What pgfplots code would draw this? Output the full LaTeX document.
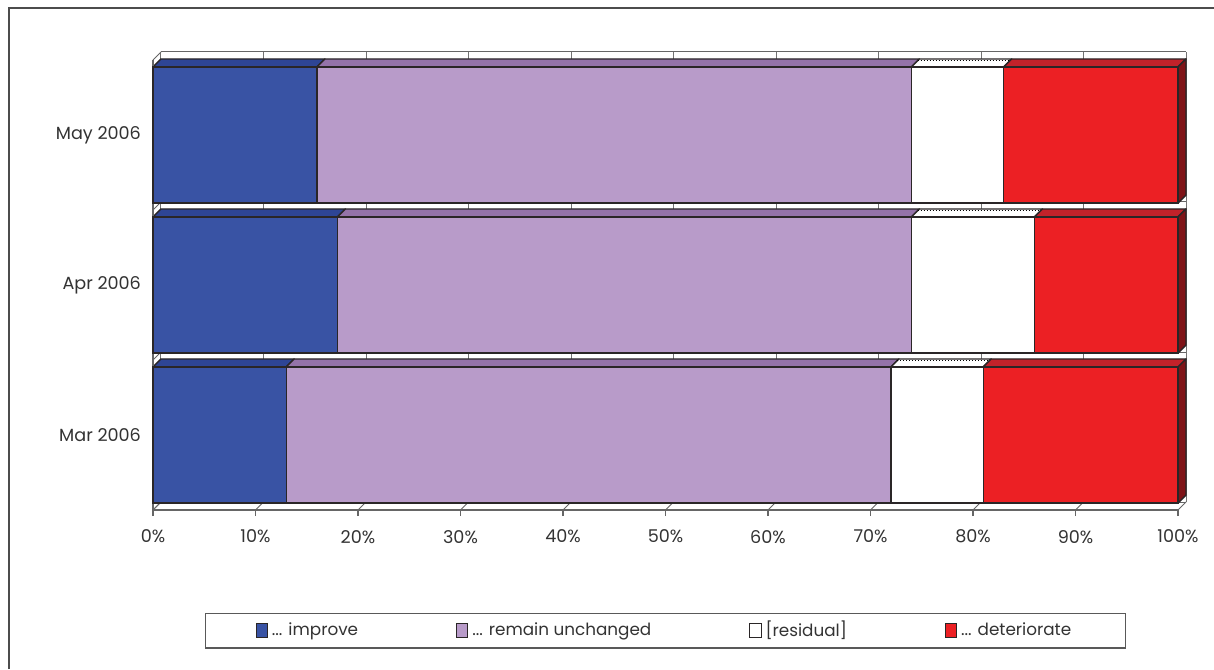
\documentclass[border=0pt]{standalone}
\usepackage{pgfplots}
\pgfplotsset{compat=1.18}
\usepackage{fontspec}
\setmainfont{Poppins}

\definecolor{cImp}{HTML}{3953A4}
\definecolor{cImpTop}{HTML}{2E4595}
\definecolor{cUnc}{HTML}{B89BC9}
\definecolor{cUncTop}{HTML}{9473A9}
\definecolor{cDet}{HTML}{EC2024}
\definecolor{cDetTop}{HTML}{C2222A}
\definecolor{cDetSide}{HTML}{7F1418}
\definecolor{cEdge}{HTML}{2A2627}
\definecolor{cText}{HTML}{333333}

% depth of the fake 3D effect in axis units
\def\dX{0.78}
\def\dY{0.0533}

\pgfplotsset{
  common/.style={
    at={(76.5pt,79.5pt)}, anchor=south west,
    scale only axis, width=512.5pt, height=225pt,
    xmin=0, xmax=100, ymin=-0.5, ymax=2.5,
    clip=false,
  },
  face/.style={draw=cEdge, line width=0.7pt, line join=round},
}

\begin{document}
\begin{tikzpicture}[font=\fontsize{8.8}{10.5}\selectfont, text=cText]
\useasboundingbox (0,0) rectangle (607pt,334.5pt);
\draw[line width=0.9pt, color=black!70] (4.5pt,0) -- (4.5pt,330.5pt) -- (607pt,330.5pt);

% back walls, grid and 3D faces
\begin{axis}[common, axis lines=none, ticks=none]
  % back wall grid
  \pgfplotsinvokeforeach{0,10,20,30,40,50,60,70,80,90,100}{
    \draw[black!55, line width=0.5pt] (axis cs:#1+\dX,-0.5+\dY) -- (axis cs:#1+\dX,2.5+\dY);
    \draw[black!60, line width=0.5pt] (axis cs:#1,-0.5) -- (axis cs:#1+\dX,-0.5+\dY);
  }
  \pgfplotsinvokeforeach{-0.5,0.5,1.5,2.5}{
    \draw[black!60, line width=0.5pt] (axis cs:\dX,#1+\dY) -- (axis cs:100+\dX,#1+\dY);
    \draw[black!60, line width=0.5pt] (axis cs:0,#1) -- (axis cs:\dX,#1+\dY);
  }
  % top faces: Mar (y=0), Apr (y=1), May (y=2); h = 0.4535
  \addplot[face, fill=cImpTop] coordinates {(0,0.4535) (0.78,0.5068) (13.78,0.5068) (13,0.4535)} --cycle;
  \addplot[face, fill=cUncTop] coordinates {(13,0.4535) (13.78,0.5068) (72.78,0.5068) (72,0.4535)} --cycle;
  \addplot[face, fill=white] coordinates {(72,0.4535) (72.78,0.5068) (81.78,0.5068) (81,0.4535)} --cycle;
  \addplot[face, fill=cDetTop] coordinates {(81,0.4535) (81.78,0.5068) (100.78,0.5068) (100,0.4535)} --cycle;
  \addplot[face, fill=cDetSide] coordinates {(100,-0.4535) (100.78,-0.4002) (100.78,0.5068) (100,0.4535)} --cycle;

  \addplot[face, fill=cImpTop] coordinates {(0,1.4535) (0.78,1.5068) (18.78,1.5068) (18,1.4535)} --cycle;
  \addplot[face, fill=cUncTop] coordinates {(18,1.4535) (18.78,1.5068) (74.78,1.5068) (74,1.4535)} --cycle;
  \addplot[face, fill=white] coordinates {(74,1.4535) (74.78,1.5068) (86.78,1.5068) (86,1.4535)} --cycle;
  \addplot[face, fill=cDetTop] coordinates {(86,1.4535) (86.78,1.5068) (100.78,1.5068) (100,1.4535)} --cycle;
  \addplot[face, fill=cDetSide] coordinates {(100,0.5465) (100.78,0.5998) (100.78,1.5068) (100,1.4535)} --cycle;

  \addplot[face, fill=cImpTop] coordinates {(0,2.4535) (0.78,2.5068) (16.78,2.5068) (16,2.4535)} --cycle;
  \addplot[face, fill=cUncTop] coordinates {(16,2.4535) (16.78,2.5068) (74.78,2.5068) (74,2.4535)} --cycle;
  \addplot[face, fill=white] coordinates {(74,2.4535) (74.78,2.5068) (83.78,2.5068) (83,2.4535)} --cycle;
  \addplot[face, fill=cDetTop] coordinates {(83,2.4535) (83.78,2.5068) (100.78,2.5068) (100,2.4535)} --cycle;
  \addplot[face, fill=cDetSide] coordinates {(100,1.5465) (100.78,1.5998) (100.78,2.5068) (100,2.4535)} --cycle;
  % dotted inner edge on the residual tops
  \addplot[densely dotted, black, line width=0.5pt] coordinates {(72.6,0.4935) (81.5,0.4935)};
  \addplot[densely dotted, black, line width=0.5pt] coordinates {(74.6,1.4935) (86.5,1.4935)};
  \addplot[densely dotted, black, line width=0.5pt] coordinates {(74.6,2.4935) (83.5,2.4935)};
\end{axis}

% front faces of the stacked bars
\begin{axis}[common,
  xbar stacked, bar width=0.907,
  axis x line*=bottom, axis y line*=left,
  axis line style={black!60, line width=0.6pt},
  xtick={0,10,20,30,40,50,60,70,80,90,100},
  xticklabel={\pgfmathprintnumber{\tick}\%},
  ytick={0,1,2},
  yticklabels={Mar 2006, Apr 2006, May 2006},
  extra y ticks={-0.5,0.5,1.5,2.5},
  extra y tick labels={},
  extra y tick style={major tick length=4pt},
  major tick length=3pt,
  ytick style={draw=none},
  extra y tick style={tick style={black!60, line width=0.6pt}},
  xtick style={black!60, line width=0.6pt},
  xticklabel style={yshift=-3.5pt},
  yticklabel style={xshift=0.5pt},
  tick align=outside,
  /pgf/number format/assume math mode=true,
  legend columns=4,
  legend style={at={(0.5,-0.268)}, anchor=center, draw=black!65, line width=0.6pt,
    /tikz/every even column/.append style={column sep=47pt},
    inner xsep=25pt, inner ysep=2pt, font=\fontsize{8.4}{10}\selectfont},
  legend image code/.code={\draw[#1, draw=cEdge, line width=0.5pt] (0pt,-3.2pt) rectangle (5.6pt,3.6pt);},
  every axis plot/.append style={draw=cEdge, line width=0.7pt},
]
  \addplot[fill=cImp] coordinates {(13,0) (18,1) (16,2)};
  \addlegendentry{... improve}
  \addplot[fill=cUnc] coordinates {(59,0) (56,1) (58,2)};
  \addlegendentry{... remain unchanged}
  \addplot[fill=white] coordinates {(9,0) (12,1) (9,2)};
  \addlegendentry{[residual]}
  \addplot[fill=cDet] coordinates {(19,0) (14,1) (17,2)};
  \addlegendentry{... deteriorate}
\end{axis}
\end{tikzpicture}
\end{document}
